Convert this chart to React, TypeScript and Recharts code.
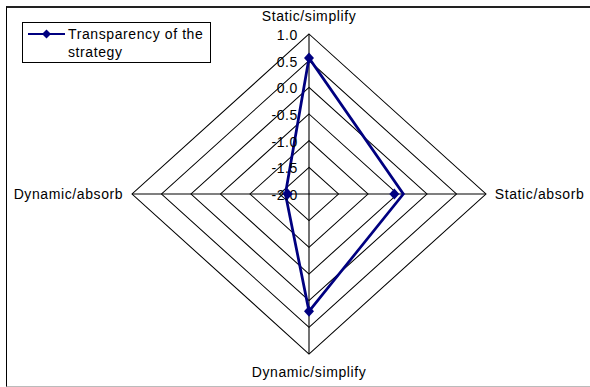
import {
	Legend,
	PolarAngleAxis,
	PolarGrid,
	PolarRadiusAxis,
	Radar,
	RadarChart,
} from "recharts";

const axes = ["Static/simplify", "Static/absorb", "Dynamic/simplify", "Dynamic/absorb"];
const transparency = [0.55, -0.4, 0.2, -1.6];
const seriesName = "Transparency of the strategy";
const radiusTicks = [-2, -1.5, -1, -0.5, 0, 0.5, 1];

const data = axes.map((axis, i) => ({ axis, value: transparency[i] }));

const NAVY = "#000080";
const FONT = "Arial, 'Liberation Sans', sans-serif";
const CX = 309;
const CY = 194;
const R = 160;
// the original plot is a little wider than tall
const SX = 1.106;

const textStyle = { fontFamily: FONT, fontSize: 14, letterSpacing: 0.6 };

const RadiusTick = ({ x, y, payload }: any) => (
	<text x={x - 11} y={y + 1} textAnchor="end" dominantBaseline="central" fill="#000" style={textStyle}>
		{Number(payload.value).toFixed(1)}
	</text>
);

const AngleTick = ({ x, y, cx, cy, payload }: any) => {
	const ox = cx ?? CX;
	const oy = cy ?? CY;
	const dx = x - ox;
	const dy = y - oy;
	let anchor = "middle";
	let tx = x;
	let ty = y;
	if (Math.abs(dx) > Math.abs(dy)) {
		anchor = dx > 0 ? "start" : "end";
		tx = ox + dx * SX;
	} else {
		ty = y + Math.sign(dy) * 10;
	}
	return (
		<text x={tx} y={ty} textAnchor={anchor} dominantBaseline="central" fill="#000" style={textStyle}>
			{payload.value}
		</text>
	);
};

const Diamond = ({ cx, cy }: any) => (
	<path d={`M${cx},${cy - 5.5}L${cx + 5},${cy}L${cx},${cy + 5.5}L${cx - 5},${cy}Z`} fill={NAVY} />
);

const LegendBox = ({ payload }: any) => (
	<div
		style={{
			boxSizing: "border-box",
			width: 189,
			height: 41,
			border: "1px solid #000",
			background: "#fff",
			position: "relative",
			...textStyle,
			lineHeight: "18px",
			color: "#000",
		}}
	>
		<svg width={37} height={12} style={{ position: "absolute", left: 5, top: 5 }}>
			<line x1={0} y1={6} x2={37} y2={6} stroke={NAVY} strokeWidth={2} />
			<path d="M18.5,1.5L23,6L18.5,10.5L14,6Z" fill={NAVY} />
		</svg>
		<div style={{ position: "absolute", left: 45, top: 2, width: 142 }}>
			{payload && payload[0] ? payload[0].value : seriesName}
		</div>
	</div>
);

const App = () => {
	return (
		<div
			style={{
				position: "absolute",
				left: 0,
				top: 0,
				width: 590,
				height: 387,
				overflow: "hidden",
				background: "#fff",
			}}
		>
			<style>{`.recharts-polar-grid, .recharts-radar { transform: scaleX(${SX}); transform-origin: ${CX}px ${CY}px; }`}</style>
			<div
				style={{
					position: "absolute",
					boxSizing: "border-box",
					left: 6,
					top: 6,
					width: 600,
					height: 381,
					borderTop: "2px solid #222",
					borderLeft: "1px solid #000",
					borderBottom: "1px solid #bbb",
				}}
			/>
			<div style={{ position: "absolute", left: 0, top: 0 }}>
				<RadarChart
					width={590}
					height={387}
					data={data}
					cx={CX}
					cy={CY}
					outerRadius={R}
					margin={{ top: 0, right: 0, bottom: 0, left: 0 }}
				>
					<PolarGrid gridType="polygon" stroke="#000" strokeOpacity={1} />
					<PolarAngleAxis dataKey="axis" axisLine={false} tickLine={false} tick={<AngleTick />} />
					<PolarRadiusAxis
						angle={90}
						type="number"
						domain={[radiusTicks[0], radiusTicks[radiusTicks.length - 1]]}
						ticks={radiusTicks as any}
						tickCount={radiusTicks.length}
						axisLine={false}
						tick={<RadiusTick />}
					/>
					<Radar
						name={seriesName}
						dataKey="value"
						stroke={NAVY}
						strokeWidth={2.5}
						fill="none"
						fillOpacity={0}
						dot={<Diamond />}
						isAnimationActive={false}
					/>
					<Legend
						content={<LegendBox />}
						wrapperStyle={{ position: "absolute", left: 22, top: 22, width: 189, height: 41 }}
					/>
				</RadarChart>
			</div>
		</div>
	);
};

export default App;
